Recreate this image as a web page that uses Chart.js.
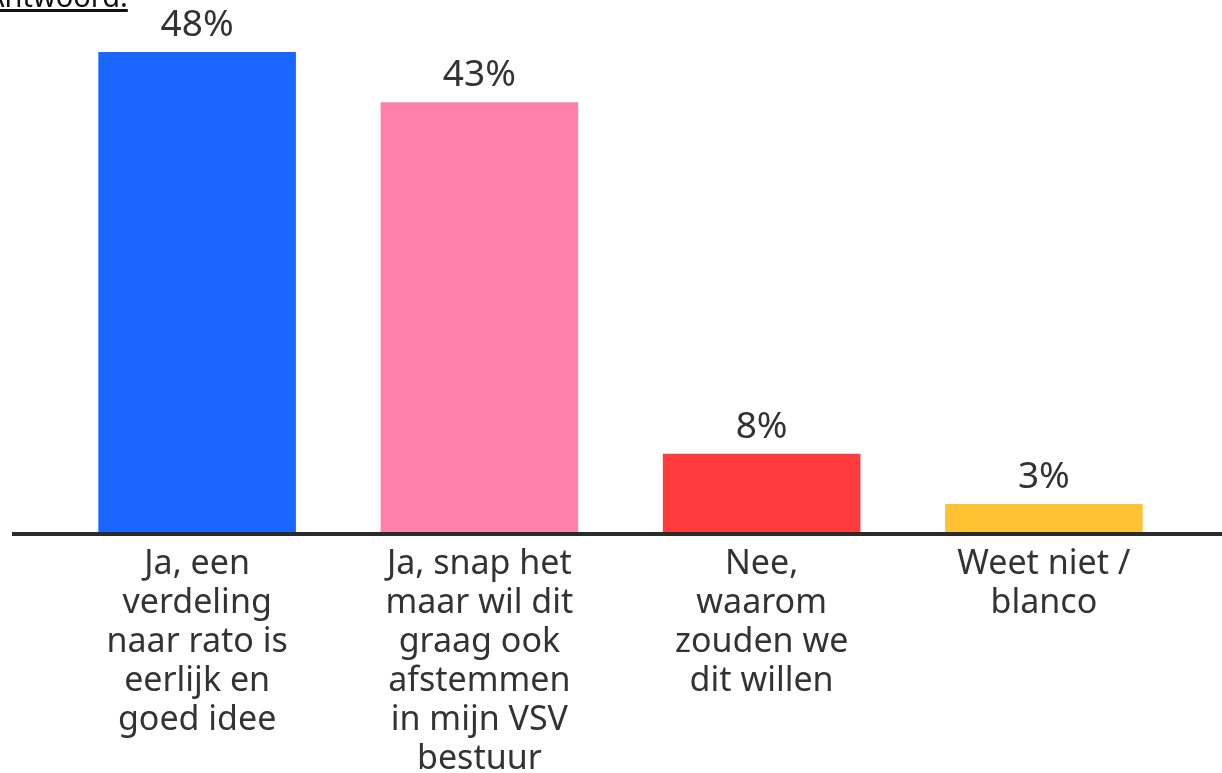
<!DOCTYPE html>
<html>
<head>
<meta charset="utf-8">
<script src="https://cdn.jsdelivr.net/npm/chart.js@4"></script>
<style>
  html, body { margin:0; padding:0; background:#fff; overflow:hidden; }
  #wrap { position:relative; width:1222px; height:773px; }
  #title { position:absolute; left:-14px; top:-24px; font:29px "Noto Sans", sans-serif; color:#111; text-decoration:underline; text-decoration-thickness:3px; }
</style>
</head>
<body>
<div id="wrap">
  <div id="title">Antwoord:</div>
  <canvas id="chart"></canvas>
</div>
<script>
// Poll results
const categories = [
  ['Ja, een', 'verdeling', 'naar rato is', 'eerlijk en', 'goed idee'],
  ['Ja, snap het', 'maar wil dit', 'graag ook', 'afstemmen', 'in mijn VSV', 'bestuur'],
  ['Nee,', 'waarom', 'zouden we', 'dit willen'],
  ['Weet niet /', 'blanco']
];
const values = [48, 43, 8, 3];
const colors = ['#1b66ff', '#ff80ab', '#ff3b3b', '#ffc233'];

const FONT = '"Noto Sans", sans-serif';
const TEXT = '#333';

// value labels above bars + baseline across the full width
const barLabels = {
  id: 'barLabels',
  afterDatasetsDraw(chart){
    const ctx = chart.ctx;
    const y0 = chart.scales.y.getPixelForValue(0);
    ctx.save();
    ctx.fillStyle = '#2b2b2b';
    ctx.fillRect(12, y0 - 2, chart.width - 12, 4);
    ctx.font = '37px ' + FONT;
    ctx.fillStyle = TEXT;
    ctx.textAlign = 'center';
    ctx.textBaseline = 'alphabetic';
    chart.getDatasetMeta(0).data.forEach((bar, i) => {
      ctx.fillText(values[i] + '%', bar.x, bar.y - 16);
    });
    ctx.restore();
  }
};

new Chart(document.getElementById('chart'), {
  type: 'bar',
  data: {
    labels: categories,
    datasets: [{ data: values, backgroundColor: colors, barPercentage: 0.7, categoryPercentage: 1 }]
  },
  options: {
    responsive: true,
    maintainAspectRatio: false,
    animation: false,
    layout: { padding: { left: 56, right: 37, top: 52, bottom: 0 } },
    plugins: { legend: { display: false }, tooltip: { enabled: false } },
    scales: {
      x: {
        grid: { display: false },
        border: { display: false },
        ticks: { color: TEXT, font: { family: FONT, size: 34, lineHeight: 39/34 }, padding: 3, maxRotation: 0, autoSkip: false },
        afterFit(scale){ scale.height = 239; }
      },
      y: { display: false, min: 0, max: 48 }
    }
  },
  plugins: [barLabels]
});
</script>
</body>
</html>
